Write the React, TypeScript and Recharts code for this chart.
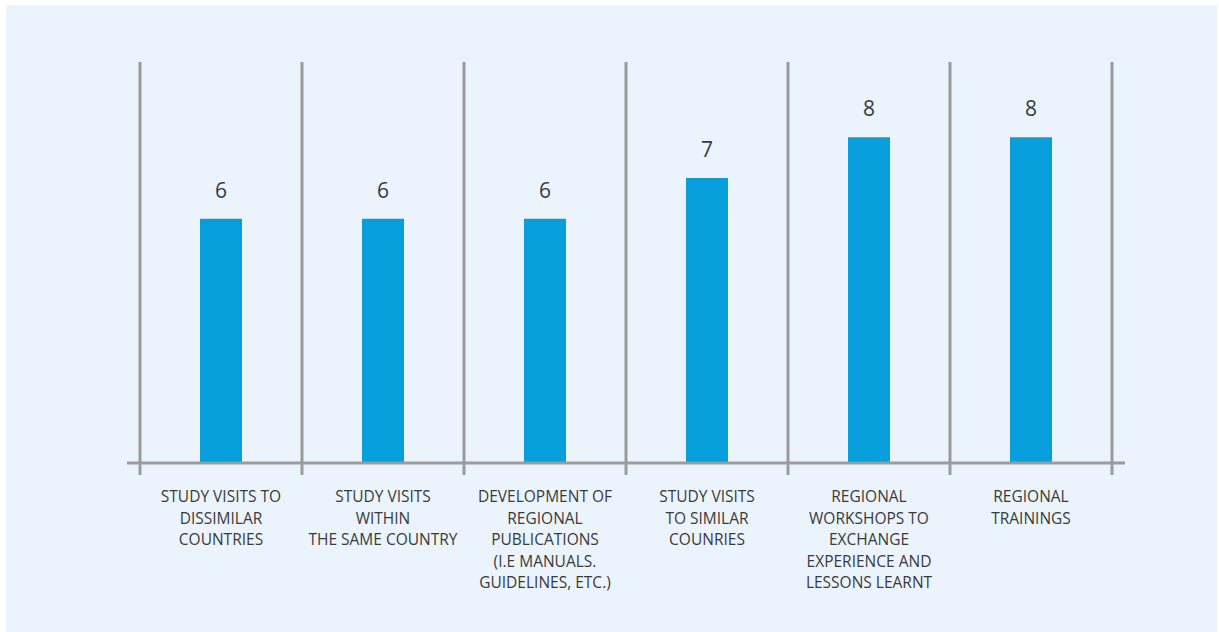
import { BarChart, Bar, XAxis, YAxis, LabelList, ReferenceLine } from "recharts";

const categories = [
  ["STUDY VISITS TO", "DISSIMILAR", "COUNTRIES"],
  ["STUDY VISITS", "WITHIN", "THE SAME COUNTRY"],
  ["DEVELOPMENT OF", "REGIONAL", "PUBLICATIONS", "(I.E MANUALS.", "GUIDELINES, ETC.)"],
  ["STUDY VISITS", "TO SIMILAR", "COUNRIES"],
  ["REGIONAL", "WORKSHOPS TO", "EXCHANGE", "EXPERIENCE AND", "LESSONS LEARNT"],
  ["REGIONAL", "TRAININGS"],
];
const counts = [6, 6, 6, 7, 8, 8];

const data = categories.map((lines, i) => ({ name: lines.join("\n"), pos: i + 0.5, value: counts[i] }));
const boundaries = categories.map((_, i) => i).concat(categories.length);

const GRID = "#9b9b9b";
const TEXT = "#3a3a3a";
const FONT = "'Open Sans', 'Noto Sans', sans-serif";

function MultiLineTick(props: any) {
  const { x, y, payload } = props;
  const lines = String(payload.value).split("\n");
  return (
    <text x={x} y={y} textAnchor="middle" fill={TEXT} fontSize={15.5} fontFamily={FONT}>
      {lines.map((l, i) => (
        <tspan key={i} x={x} dy={i === 0 ? 39 : 21.5}>
          {l}
        </tspan>
      ))}
    </text>
  );
}

export default function App() {
  return (
    <div style={{ position: "absolute", left: 0, top: 0, width: 1219, height: 632 }}>
      <div
        style={{ position: "absolute", left: 6, top: 5, width: 1211, height: 627, background: "#ebf4fc" }}
      />
      <div style={{ position: "absolute", left: 0, top: 0 }}>
        <BarChart
          width={1219}
          height={632}
          data={data}
          margin={{ top: 62, right: 107, left: 140, bottom: 19 }}
          barSize={42}
        >
          <XAxis
            dataKey="name"
            xAxisId="cat"
            axisLine={false}
            tickLine={false}
            tickSize={0}
            tickMargin={0}
            height={150}
            interval={0}
            tick={<MultiLineTick />}
          />
          <XAxis
            xAxisId="edges"
            dataKey="pos"
            type="number"
            domain={[0, categories.length]}
            allowDataOverflow
            hide
          />
          <YAxis hide domain={[0, 9.85]} allowDataOverflow />
          {boundaries.map((b) => (
            <ReferenceLine
              key={b}
              x={b}
              xAxisId="edges"
              ifOverflow="visible"
              shape={(p: any) => (
                <line
                  x1={p.x1}
                  x2={p.x2}
                  y1={Math.min(p.y1, p.y2)}
                  y2={Math.max(p.y1, p.y2) + 12}
                  stroke={GRID}
                  strokeWidth={3}
                />
              )}
            />
          ))}
          <Bar dataKey="value" xAxisId="cat" fill="#079fdb" isAnimationActive={false}>
            <LabelList dataKey="value" position="top" offset={21} fill={TEXT} fontSize={21} fontFamily={FONT} />
          </Bar>
          <ReferenceLine
            y={0}
            xAxisId="cat"
            ifOverflow="visible"
            shape={(p: any) => (
              <line x1={p.x1 - 13} x2={p.x2 + 13} y1={p.y1} y2={p.y2} stroke={GRID} strokeWidth={3} />
            )}
          />
        </BarChart>
      </div>
    </div>
  );
}
